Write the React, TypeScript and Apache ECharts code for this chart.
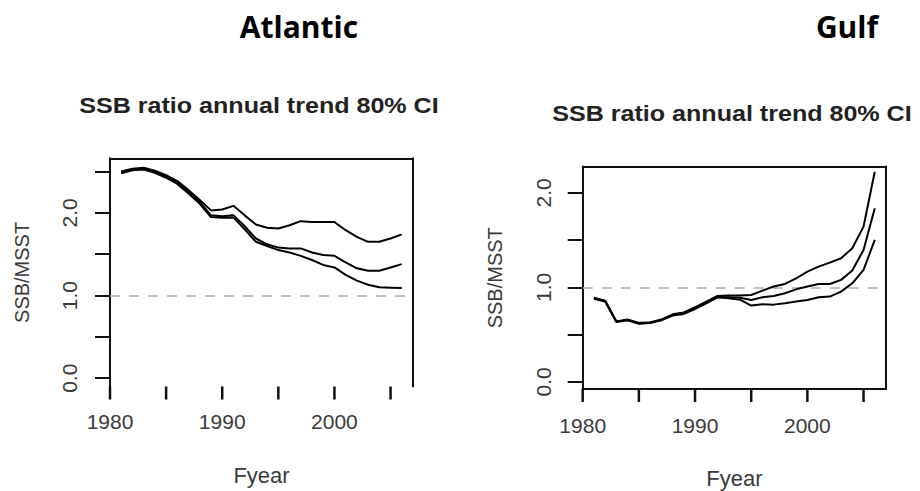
import React, { useEffect, useRef } from "react";
import * as echarts from "echarts";

const years = [1981, 1982, 1983, 1984, 1985, 1986, 1987, 1988, 1989, 1990, 1991, 1992, 1993,
  1994, 1995, 1996, 1997, 1998, 1999, 2000, 2001, 2002, 2003, 2004, 2005, 2006];

const atlanticUpper = [2.50, 2.535, 2.545, 2.51, 2.455, 2.385, 2.275, 2.155, 2.03, 2.04, 2.085, 1.97, 1.86,
  1.82, 1.81, 1.85, 1.90, 1.89, 1.89, 1.89, 1.79, 1.71, 1.65, 1.65, 1.69, 1.74];
const atlanticMedian = [2.49, 2.525, 2.535, 2.495, 2.44, 2.365, 2.255, 2.13, 1.97, 1.96, 1.97, 1.84, 1.69,
  1.62, 1.58, 1.57, 1.57, 1.52, 1.49, 1.48, 1.40, 1.33, 1.30, 1.30, 1.34, 1.38];
const atlanticLower = [2.48, 2.515, 2.525, 2.485, 2.425, 2.35, 2.235, 2.11, 1.95, 1.94, 1.945, 1.80, 1.65,
  1.60, 1.55, 1.52, 1.48, 1.43, 1.37, 1.34, 1.25, 1.18, 1.13, 1.10, 1.095, 1.09];

const gulfUpper = [0.89, 0.86, 0.64, 0.66, 0.625, 0.63, 0.66, 0.715, 0.735, 0.79, 0.85, 0.91, 0.915,
  0.915, 0.92, 0.966, 1.01, 1.037, 1.097, 1.168, 1.22, 1.263, 1.309, 1.415, 1.644, 2.225];
const gulfMedian = [0.885, 0.857, 0.638, 0.656, 0.62, 0.628, 0.656, 0.709, 0.726, 0.78, 0.84, 0.90, 0.895,
  0.89, 0.868, 0.896, 0.91, 0.938, 0.98, 1.01, 1.037, 1.037, 1.08, 1.18, 1.397, 1.838];
const gulfLower = [0.88, 0.852, 0.635, 0.652, 0.615, 0.624, 0.652, 0.703, 0.72, 0.772, 0.832, 0.895, 0.885,
  0.87, 0.808, 0.822, 0.818, 0.833, 0.85, 0.868, 0.896, 0.903, 0.956, 1.044, 1.185, 1.503];

const xAxisMin = 1980;
const xAxisMax = 2007;
const xTickValues = [1980, 1985, 1990, 1995, 2000, 2005];
const xLabelValues = [1980, 1990, 2000];
const atlanticYTicks = [0, 0.5, 1.0, 1.5, 2.0, 2.5];
const gulfYTicks = [0, 0.5, 1.0, 1.5, 2.0];
const yLabelValues = [0, 1.0, 2.0];
const referenceLevel = 1.0;

const panelTitles = ["Atlantic", "Gulf"];
const plotTitle = "SSB ratio annual trend 80% CI";
const xName = "Fyear";
const yName = "SSB/MSST";

const AXIS_FONT = "'Liberation Sans', Arial, sans-serif";
const INK = "#111";
const LABEL = "#3a3a3a";

function pairs(vals: number[]) {
  return years.map((y, i) => [y, vals[i]]);
}

export default function App() {
  const ref = useRef<HTMLDivElement>(null);

  useEffect(() => {
    document.body.style.margin = "0";
    if (!ref.current) return;
    const chart = echarts.init(ref.current, null, { renderer: "svg" });

    const grids = [
      { left: 110, top: 158.3, width: 303, height: 228.2 },
      { left: 582.7, top: 166.5, width: 303.3, height: 222.5 },
    ];
    const yRanges = [
      { min: -0.1, max: 2.66 },
      { min: -0.075, max: 2.28 },
    ];

    const bottomX = (gi: number, showLine: boolean, margin: number, nameGap: number) => ({
      type: "value",
      gridIndex: gi,
      position: "bottom",
      min: xAxisMin,
      max: xAxisMax,
      axisLine: { show: showLine, onZero: false, lineStyle: { color: INK, width: 2 } },
      axisTick: { show: false },
      axisLabel: {
        show: true,
        customValues: xLabelValues,
        margin,
        fontSize: 21,
        fontFamily: AXIS_FONT,
        color: LABEL,
        formatter: (v: number) => String(v),
      },
      splitLine: { show: false },
      name: xName,
      nameLocation: "middle",
      nameGap,
      nameTextStyle: { fontSize: 22, fontFamily: AXIS_FONT, color: LABEL },
    });

    const frameX = (gi: number) => ({
      type: "value",
      gridIndex: gi,
      position: "top",
      min: xAxisMin,
      max: xAxisMax,
      axisLine: { show: true, onZero: false, lineStyle: { color: INK, width: 2 } },
      axisTick: { show: false },
      axisLabel: { show: false },
      splitLine: { show: false },
    });

    const leftY = (gi: number, ticks: number[], margin: number, nameGap: number) => ({
      type: "value",
      gridIndex: gi,
      position: "left",
      min: yRanges[gi].min,
      max: yRanges[gi].max,
      axisLine: { show: true, onZero: false, lineStyle: { color: INK, width: 2 } },
      axisTick: {
        show: true,
        inside: false,
        length: 15,
        customValues: ticks,
        lineStyle: { color: INK, width: 2 },
      },
      axisLabel: {
        show: true,
        customValues: yLabelValues,
        rotate: 90,
        margin,
        fontSize: 21,
        fontFamily: AXIS_FONT,
        color: LABEL,
        formatter: (v: number) => v.toFixed(1),
      },
      splitLine: { show: false },
      name: yName,
      nameLocation: "middle",
      nameRotate: 90,
      nameGap,
      nameTextStyle: { fontSize: 20, fontFamily: AXIS_FONT, color: LABEL },
    });

    const frameY = (gi: number) => ({
      type: "value",
      gridIndex: gi,
      position: "right",
      min: yRanges[gi].min,
      max: yRanges[gi].max,
      axisLine: { show: true, onZero: false, lineStyle: { color: INK, width: 2 } },
      axisTick: { show: false },
      axisLabel: { show: false },
      splitLine: { show: false },
    });

    const lineSeries = (name: string, vals: number[], gi: number, withRef: boolean) => ({
      type: "line",
      name,
      xAxisIndex: gi,
      yAxisIndex: gi,
      data: pairs(vals),
      showSymbol: false,
      symbol: "none",
      lineStyle: { color: "#000", width: 2 },
      z: 3,
      markLine: withRef
        ? {
            silent: true,
            symbol: ["none", "none"],
            label: { show: false },
            lineStyle: { color: "#aaaaaa", width: 1.6, type: [10, 9] },
            data: [{ yAxis: referenceLevel }],
            z: 1,
          }
        : undefined,
    });

    // x-axis tick marks: short bars hanging below each plot, positioned by the axis scale
    const tickSeries = (gi: number) => ({
      type: "scatter",
      name: "x ticks " + gi,
      xAxisIndex: gi,
      yAxisIndex: gi,
      clip: false,
      silent: true,
      data: xTickValues.map((v) => [v, yRanges[gi].min]),
      symbol: "rect",
      symbolSize: [2.5, 13],
      symbolOffset: [0, 6.5],
      itemStyle: { color: INK, opacity: 1 },
      z: 10,
    });

    chart.setOption({
      animation: false,
      backgroundColor: "#fff",
      grid: grids.map((g) => ({ ...g, containLabel: false, show: false })),
      xAxis: [bottomX(0, false, 24, 78), bottomX(1, true, 26, 78), frameX(0), frameX(1)],
      yAxis: [leftY(0, atlanticYTicks, 30, 78), leftY(1, gulfYTicks, 29, 78), frameY(0), frameY(1)],
      series: [
        lineSeries("Atlantic upper", atlanticUpper, 0, true),
        lineSeries("Atlantic median", atlanticMedian, 0, false),
        lineSeries("Atlantic lower", atlanticLower, 0, false),
        lineSeries("Gulf upper", gulfUpper, 1, true),
        lineSeries("Gulf median", gulfMedian, 1, false),
        lineSeries("Gulf lower", gulfLower, 1, false),
        tickSeries(0),
        tickSeries(1),
      ],
      graphic: [
        {
          type: "text",
          x: 299,
          y: 26,
          style: {
            text: panelTitles[0],
            fontSize: 30,
            fontWeight: "bold",
            fontFamily: "'Open Sans', sans-serif",
            fill: "#000",
            textAlign: "center",
            textVerticalAlign: "middle",
          },
        },
        {
          type: "text",
          x: 847,
          y: 26,
          style: {
            text: panelTitles[1],
            fontSize: 30,
            fontWeight: "bold",
            fontFamily: "'Open Sans', sans-serif",
            fill: "#000",
            textAlign: "center",
            textVerticalAlign: "middle",
          },
        },
        {
          type: "text",
          x: 259,
          y: 106,
          scaleX: 1.14,
          style: {
            text: plotTitle,
            fontSize: 22,
            fontWeight: "bold",
            fontFamily: AXIS_FONT,
            fill: "#222",
            textAlign: "center",
            textVerticalAlign: "middle",
          },
        },
        {
          type: "text",
          x: 732,
          y: 114,
          scaleX: 1.14,
          style: {
            text: plotTitle,
            fontSize: 22,
            fontWeight: "bold",
            fontFamily: AXIS_FONT,
            fill: "#222",
            textAlign: "center",
            textVerticalAlign: "middle",
          },
        },
      ],
    });

    return () => chart.dispose();
  }, []);

  return (
    <div
      ref={ref}
      style={{ position: "absolute", left: 0, top: 0, width: 920, height: 491, background: "#fff" }}
    />
  );
}
